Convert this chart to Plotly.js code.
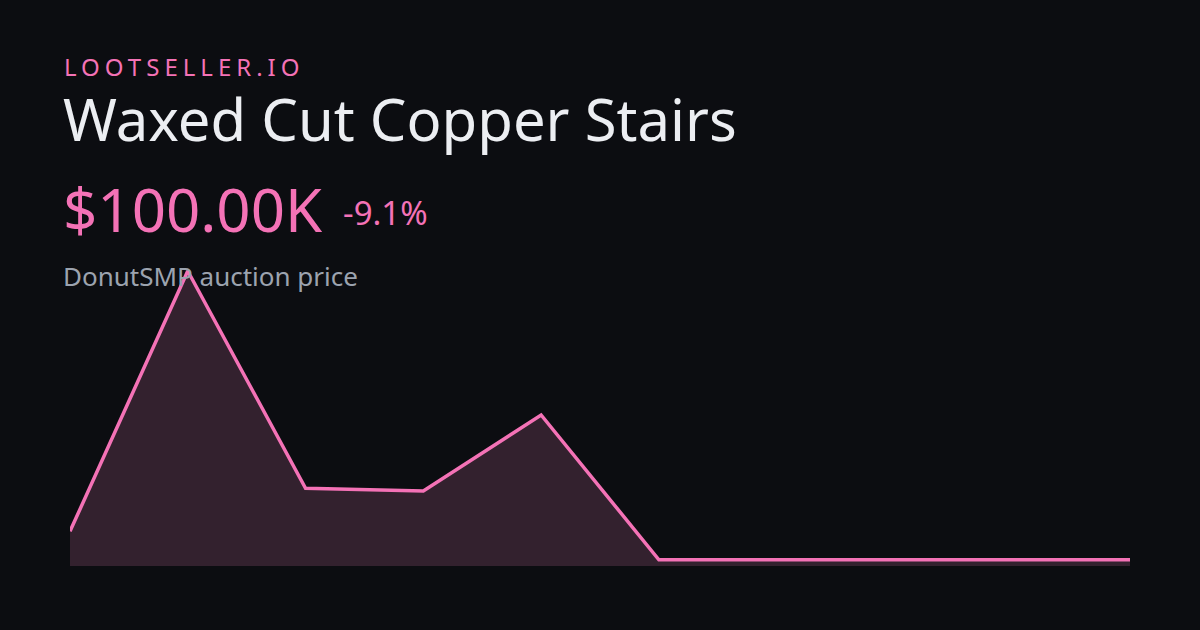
<!DOCTYPE html>
<html>
<head>
<meta charset="utf-8">
<script src="https://cdn.plot.ly/plotly-3.0.1.min.js"></script>
<style>
  html, body { margin: 0; padding: 0; background: #0c0d11; }
  #chart { width: 1200px; height: 630px; }
  text.brand-spaced { letter-spacing: 5px; }
</style>
</head>
<body>
<div id="chart"></div>
<script>
// price history, in thousands of dollars
var days = [1, 2, 3, 4, 5, 6, 7, 8, 9, 10]
var prices = [110, 201.7, 125.2, 124.2, 151, 100, 100, 100, 100, 100]

var brand = 'LOOTSELLER.IO'
var itemName = 'Waxed Cut Copper Stairs'
var priceLabel = '$100.00K'
var changeLabel = '-9.1%'
var subLabel = 'DonutSMP auction price'

var pink = '#f472b6'

var trace = {
  x: days,
  y: prices,
  mode: 'lines',
  type: 'scatter',
  fill: 'tozeroy',
  fillcolor: '#33212e',
  line: { color: pink, width: 3.5 },
  hoverinfo: 'none'
}

function note(text, x, y, size, color) {
  return {
    text: text, xref: 'paper', yref: 'paper', x: x, y: y,
    xanchor: 'left', yanchor: 'bottom', showarrow: false,
    font: { family: 'Noto Sans', size: size, color: color }
  }
}

// annotations are placed in pixel space converted to paper coords
var W = 1200, H = 630
var m = { l: 70, r: 70, t: 250, b: 64 }
function px(x) { return (x - m.l) / (W - m.l - m.r) }
function py(y) { return (H - m.b - y) / (H - m.t - m.b) }

var layout = {
  width: W,
  height: H,
  margin: m,
  paper_bgcolor: '#0c0d11',
  plot_bgcolor: '#0c0d11',
  showlegend: false,
  xaxis: { visible: false, range: [1, 10], fixedrange: true },
  yaxis: { visible: false, range: [97.8, 209.1], fixedrange: true },
  annotations: [
    note(brand, px(61), py(85), 24, pink),
    note(itemName, px(61), py(160), 58, '#eceef2'),
    note(priceLabel, px(61), py(252), 60, pink),
    note(changeLabel, px(341), py(236.5), 33, pink),
    note(subLabel, px(61), py(295.5), 26, '#9ca3af')
  ]
}

Plotly.newPlot('chart', [trace], layout, { staticPlot: true }).then(function() {
  // widen the brand line and keep its left edge where it was
  var t = document.querySelector('.annotation text')
  if (!t) return
  var before = t.getBBox().x
  t.classList.add('brand-spaced')
  var after = t.getBBox().x
  t.setAttribute('x', parseFloat(t.getAttribute('x')) + (before - after) + 1)
})
</script>
</body>
</html>
